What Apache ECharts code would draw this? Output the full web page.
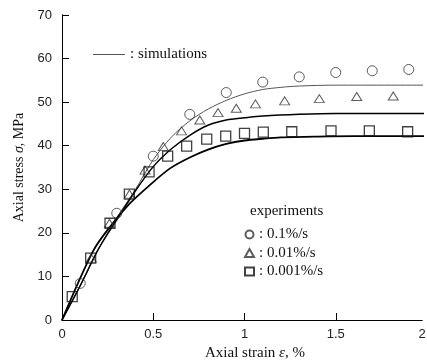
<!DOCTYPE html>
<html><head><meta charset="utf-8">
<script src="https://cdn.jsdelivr.net/npm/echarts@6/dist/echarts.min.js"></script>
<style>html,body{margin:0;padding:0;background:#fff}#c{width:427px;height:361px}</style>
</head><body><div id="c"></div>
<script>
// x-axis: frame ends at strain 1.9726 (image crop); labels 0..2
const xLabelValues = [0, 0.5, 1, 1.5, 1.9726];
const xTickValues = [0.5, 1, 1.5];
const xEnd = 1.9726;
const yMin = 0, yMax = 70, yStep = 10;

// simulations
const simFast = [[0,0],[0.1,7.9],[0.2,16.3],[0.3,23.5],[0.4,29.8],[0.5,36.8],[0.6,42.0],[0.7,45.7],[0.8,48.4],[0.9,50.4],[1.0,51.9],[1.1,52.9],[1.2,53.4],[1.3,53.7],[1.5,53.9],[2.0,53.9]];
const simMid = [[0,0],[0.1,7.9],[0.2,16.3],[0.3,23.0],[0.4,29.5],[0.5,35.2],[0.6,39.3],[0.7,42.4],[0.8,44.7],[0.9,45.9],[1.0,46.4],[1.1,46.8],[1.3,47.2],[1.5,47.4],[2.0,47.4]];
const simSlow = [[0,0],[0.17,15.8],[0.263,21.4],[0.373,26.8],[0.482,31.0],[0.592,34.8],[0.7,37.3],[0.8,39.1],[0.9,40.4],[1.0,41.2],[1.1,41.6],[1.2,41.9],[1.4,42.1],[1.6,42.2],[2.0,42.2]];

// experiments
const expFast = [[0.10,8.4],[0.30,24.5],[0.50,37.6],[0.70,47.2],[0.90,52.2],[1.10,54.6],[1.30,55.8],[1.50,56.8],[1.70,57.2],[1.90,57.5]];
const expMid = [[0.16,14.2],[0.26,22.2],[0.37,28.9],[0.455,34.4],[0.555,39.8],[0.655,43.4],[0.755,45.9],[0.855,47.6],[0.955,48.6],[1.06,49.6],[1.22,50.3],[1.41,50.8],[1.615,51.3],[1.815,51.4]];
const expSlow = [[0.056,5.35],[0.157,14.2],[0.263,22.2],[0.369,28.9],[0.477,34.0],[0.579,37.6],[0.683,39.9],[0.793,41.5],[0.897,42.2],[1.0,42.85],[1.103,43.1],[1.259,43.2],[1.474,43.4],[1.684,43.4],[1.894,43.2]];

const expNames = ['0.1%/s', '0.01%/s', '0.001%/s'];

const serif = 'Liberation Serif';
const sans = 'Liberation Sans';

const chart = echarts.init(document.getElementById('c'), null, {renderer: 'canvas'});
const markerStyle = {color: 'rgba(0,0,0,0)', borderColor: '#111', borderWidth: 1};

chart.setOption({
  animation: false,
  backgroundColor: '#fff',
  grid: {left: 62, right: 5, top: 15, bottom: 41, containLabel: false, outerBoundsMode: 'none'},
  legend: [
    {
      data: [{name: 'simulations', icon: 'rect'}],
      left: 88, top: 42,
      itemWidth: 32, itemHeight: 1,
      formatter: ': {name}',
      textStyle: {fontFamily: serif, fontSize: 15, color: '#111'},
      selectedMode: false
    },
    {
      data: expNames,
      orient: 'vertical',
      left: 239, top: 222,
      itemWidth: 9, itemHeight: 8, itemGap: 3.5,
      formatter: ': {name}',
      textStyle: {fontFamily: serif, fontSize: 15, color: '#111'},
      selectedMode: false
    }
  ],
  graphic: [{
    type: 'text', left: 250, top: 204,
    style: {text: 'experiments', font: '15px "Liberation Serif"', fill: '#111'}
  }],
  xAxis: [{
    type: 'value', min: 0, max: xEnd,
    name: 'Axial strain {i|ε}, %', nameLocation: 'middle', nameGap: 26,
    nameTextStyle: {fontFamily: serif, fontSize: 15, color: '#111', padding: [0, 0, 0, 26],
      rich: {i: {fontFamily: serif, fontStyle: 'italic', fontSize: 15, color: '#111'}}},
    axisLine: {lineStyle: {color: '#000', width: 1}},
    axisTick: {inside: true, length: 7, lineStyle: {color: '#000'}, customValues: xTickValues},
    axisLabel: {customValues: xLabelValues, margin: 8, fontFamily: sans, fontSize: 13, color: '#222',
      formatter: v => (v > 1.9 ? '2' : String(v))},
    splitLine: {show: false}
  }, {
    type: 'value', min: 0, max: xEnd, position: 'top',
    axisLine: {show: true, lineStyle: {color: '#000', width: 1}},
    axisTick: {show: false}, axisLabel: {show: false}, splitLine: {show: false}
  }],
  yAxis: [{
    type: 'value', min: yMin, max: yMax, interval: yStep,
    name: 'Axial stress {i|σ}, MPa', nameLocation: 'middle', nameGap: 34,
    nameTextStyle: {fontFamily: serif, fontSize: 14, color: '#111',
      rich: {i: {fontFamily: serif, fontStyle: 'italic', fontSize: 14, color: '#111'}}},
    axisLine: {show: true, lineStyle: {color: '#000', width: 1}},
    axisTick: {show: true, inside: true, length: 7, lineStyle: {color: '#000'}},
    axisLabel: {margin: 10, fontFamily: sans, fontSize: 13, color: '#222'},
    splitLine: {show: false}
  }, {
    type: 'value', min: yMin, max: yMax, position: 'right',
    axisLine: {show: true, lineStyle: {color: '#000', width: 1}},
    axisTick: {show: false}, axisLabel: {show: false}, splitLine: {show: false}
  }],
  series: [
    {name: 'simulations', type: 'line', data: simFast, showSymbol: false, symbol: 'none', smooth: 0.3,
      lineStyle: {color: '#555', width: 1}, itemStyle: {color: '#555'}, silent: true, z: 2},
    {name: 'simMid', type: 'line', data: simMid, showSymbol: false, symbol: 'none', smooth: 0.3,
      lineStyle: {color: '#000', width: 1.5}, silent: true, z: 2},
    {name: 'simSlow', type: 'line', data: simSlow, showSymbol: false, symbol: 'none', smooth: 0.3,
      lineStyle: {color: '#000', width: 1.8}, silent: true, z: 2},
    {name: expNames[0], type: 'scatter', data: expFast, symbol: 'circle', symbolSize: 10,
      itemStyle: Object.assign({}, markerStyle, {borderColor: '#333'}), z: 3},
    {name: expNames[1], type: 'scatter', data: expMid, symbol: 'triangle', symbolSize: [10, 8],
      itemStyle: Object.assign({}, markerStyle, {borderColor: '#333'}), z: 3},
    {name: expNames[2], type: 'scatter', data: expSlow, symbol: 'rect', symbolSize: 10,
      itemStyle: Object.assign({}, markerStyle, {borderWidth: 1.3}), z: 3}
  ]
});
</script>
</body></html>
